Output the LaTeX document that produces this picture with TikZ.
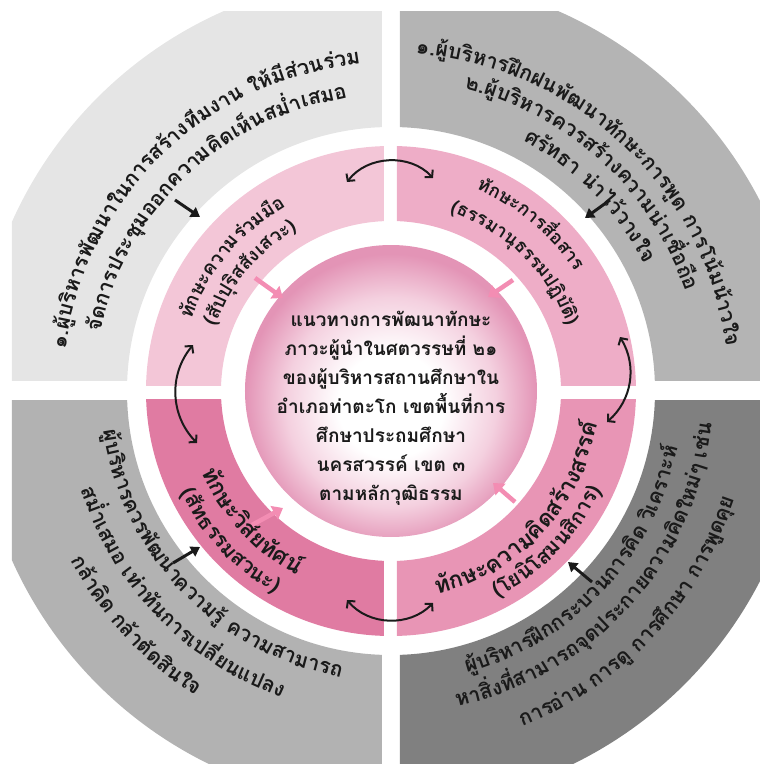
\documentclass[tikz,border=0pt]{standalone}
\usepackage{fontspec}
\newfontfamily\thaifont[Script=Thai]{Loma}
\usetikzlibrary{arrows.meta}

\definecolor{gTL}{HTML}{E5E5E5}
\definecolor{gTR}{HTML}{B4B4B4}
\definecolor{gBL}{HTML}{B2B2B2}
\definecolor{gBR}{HTML}{808080}
\definecolor{pTL}{HTML}{F3C6D7}
\definecolor{pTR}{HTML}{EEADC7}
\definecolor{pBL}{HTML}{E07BA2}
\definecolor{pBR}{HTML}{E895B5}
\definecolor{pEdge}{HTML}{E394B6}
\definecolor{pMid}{HTML}{F4D0DF}
\definecolor{pArrow}{HTML}{F38DB3}
\definecolor{ink}{HTML}{1A1A1A}

\pgfdeclareradialshading{coreshade}{\pgfpoint{0bp}{-3bp}}{color(0bp)=(white); color(9bp)=(white); color(18bp)=(pMid); color(25bp)=(pEdge); color(50bp)=(pEdge)}

\newdimen\arcwd \newdimen\arcsum \newdimen\arcrun
\newbox\arcbox
\newcounter{arcc}
\newcommand\otxt{\thaifont\bfseries\fontsize{21}{24}\selectfont}
\newcommand\ptxt{\thaifont\bfseries\fontsize{19}{22}\selectfont}
\newcommand\ptxtr{\thaifont\bfseries\fontsize{18.5}{22}\selectfont}
\newcommand\qtxt{\thaifont\bfseries\fontsize{23}{26}\selectfont}
\newcommand\rtxt{\thaifont\bfseries\fontsize{21}{24}\selectfont}
\makeatletter
\newcommand\arcstrip[1]{\strip@pt#1}
\makeatother

% #1 font, #2 baseline radius, #3 middle angle, #4 direction (1 clockwise, -1 anticlockwise), #5 chunks
\newcommand\arcline[5]{%
  \global\arcsum=0pt\relax
  \foreach \chunk in {#5}{%
    \pgfinterruptpicture\global\setbox\arcbox=\hbox{#1\chunk}\endpgfinterruptpicture
    \global\advance\arcsum by \wd\arcbox\relax}%
  \global\arcrun=-0.5\arcsum\relax
  \foreach \chunk in {#5}{%
    \pgfinterruptpicture\global\setbox\arcbox=\hbox{#1\chunk}\endpgfinterruptpicture
    \global\arcwd=\wd\arcbox\relax
    \edef\arcmid{\arcstrip{\dimexpr\arcrun+\arcwd/2\relax}}%
    \pgfmathsetmacro\arcang{#3-(#4)*\arcmid/#2*57.29578}%
    \pgfmathsetmacro\arcrot{\arcang-(#4)*90}%
    \stepcounter{arcc}%
    \node[arctext, rotate=\arcrot] (ac\arabic{arcc}) at (\arcang:#2pt) {#1\chunk};%
    \global\advance\arcrun by \arcwd\relax
  }%
}

\tikzset{
  arctext/.style={inner sep=0pt, anchor=base, text=ink},
  swing/.style={ink, line width=2pt, {Straight Barb[length=5pt,width=11pt]}-{Straight Barb[length=5pt,width=11pt]}},
  feed/.style={ink, line width=3pt, -{Triangle[length=9pt,width=11pt]}},
  pinkarrow/.style={pArrow, line width=4.5pt, -{Triangle[length=10pt,width=15pt]}},
}

\begin{document}
\begin{tikzpicture}[x=1pt,y=1pt]
\useasboundingbox (-391,-373) rectangle (369,391);

% outer grey quadrants
\begin{scope}
  \clip (-379,-373) rectangle (369,379);
  \begin{scope}\clip (-500,11) rectangle (-9,500);
    \fill[gTL, even odd rule] (0,0) circle (415pt) (0,0) circle (264pt);\end{scope}
  \begin{scope}\clip (9,11) rectangle (500,500);
    \fill[gTR, even odd rule] (0,0) circle (415pt) (0,0) circle (264pt);\end{scope}
  \begin{scope}\clip (-500,-9) rectangle (-9,-500);
    \fill[gBL, even odd rule] (0,0) circle (415pt) (0,0) circle (264pt);\end{scope}
  \begin{scope}\clip (9,-9) rectangle (500,-500);
    \fill[gBR, even odd rule] (0,0) circle (415pt) (0,0) circle (264pt);\end{scope}
\end{scope}

% pink ring quadrants
\begin{scope}\clip (-300,6) rectangle (-7,300);
  \fill[pTL, even odd rule] (0,0) circle (245pt) (0,0) circle (170pt);\end{scope}
\begin{scope}\clip (6,6) rectangle (300,300);
  \fill[pTR, even odd rule] (0,0) circle (245pt) (0,0) circle (170pt);\end{scope}
\begin{scope}\clip (-300,-8) rectangle (-7,-300);
  \fill[pBL, even odd rule] (0,0) circle (245pt) (0,0) circle (170pt);\end{scope}
\begin{scope}\clip (6,-8) rectangle (300,-300);
  \fill[pBR, even odd rule] (0,0) circle (245pt) (0,0) circle (170pt);\end{scope}

% inner circle
\shade[shading=coreshade] (0,0) circle (146pt);

\node[align=center, text=ink, font=\thaifont\bfseries\fontsize{19}{29}\selectfont] (core) at (0,-17)
  {แนวทางการพัฒนาทักษะ\\ภาวะผู้นำในศตวรรษที่ ๒๑\\ของผู้บริหารสถานศึกษาใน\\อำเภอท่าตะโก เขตพื้นที่การ\\ศึกษาประถมศึกษา\\นครสวรรค์ เขต ๓\\ตามหลักวุฒิธรรม};

% outer texts
\arcline{\otxt}{328}{134}{1}{๑.,ผู้,บริ,หาร,พัฒ,นา,ใน,การ,สร้าง,ทีม,งาน,{\ },ให้,มี,ส่วน,ร่วม}
\arcline{\otxt}{296}{133.5}{1}{จัด,การ,ประ,ชุม,ออก,ความ,คิด,เห็น,สม่ำ,เสมอ}
\arcline{\otxt}{338}{46.7}{1}{๑.,ผู้,บริ,หาร,ฝึก,ฝน,พัฒ,นา,ทัก,ษะ,การ,พูด,{\ },การ,โน้ม,น้าว,ใจ}
\arcline{\otxt}{311}{47.5}{1}{๒.,ผู้,บริ,หาร,ควร,สร้าง,ความ,น่า,เชื่อ,ถือ}
\arcline{\otxt}{283}{44.4}{1}{ศรัท,ธา,{\ },น่า,ไว้,วาง,ใจ}
\arcline{\otxt}{290}{224}{-1}{ผู้,บริ,หาร,ควร,พัฒ,นา,ความ,รู้,{\ },ความ,สา,มารถ}
\arcline{\otxt}{325}{224}{-1}{สม่ำ,เสมอ,{\ },เท่า,ทัน,การ,เปลี่ยน,แปลง}
\arcline{\otxt}{362}{222.6}{-1}{กล้า,คิด,{\ },กล้า,ตัด,สิน,ใจ}
\arcline{\otxt}{292}{-43}{-1}{ผู้,บริ,หาร,ฝึก,กระ,บวน,การ,คิด,{\ },วิ,เค,ราะห์}
\arcline{\otxt}{322}{-42}{-1}{หา,สิ่ง,ที่,สา,มารถ,จุด,ประ,กาย,ความ,คิด,ใหม่ๆ,{\ },เช่น}
\arcline{\otxt}{360}{-43}{-1}{การ,อ่าน,{\ },การ,ดู,{\ },การ,ศึก,ษา,{\ },การ,พูด,คุย}

% pink ring texts
\arcline{\ptxt}{212}{140}{1}{ทัก,ษะ,ความ,ร่วม,มือ}
\arcline{\ptxt}{187}{140}{1}{{(สัป},ปุ,ริส,สัง,เส,วะ)}
\arcline{\ptxtr}{219}{50}{1}{ทัก,ษะ,การ,สื่อ,สาร}
\arcline{\ptxtr}{188}{46}{1}{{(ธรร},มา,นุ,ธรรม,ปฏิ,บัติ)}
\arcline{\qtxt}{206}{223}{-1}{ทัก,ษะ,วิ,สัย,ทัศน์}
\arcline{\rtxt}{233}{223}{-1}{{(สัท},ธรรม,สว,นะ)}
\arcline{\qtxt}{208}{-43}{-1}{ทัก,ษะ,ความ,คิด,สร้าง,สรรค์}
\arcline{\rtxt}{232}{-44}{-1}{{(โย},นิ,โส,มน,สิ,การ)}

% curved double arrows between skills
\coordinate (sTa) at (-44,209); \coordinate (sTb) at (42,213);
\coordinate (sLa) at (-198,46); \coordinate (sLb) at (-194,-52);
\coordinate (sRa) at (229,54);  \coordinate (sRb) at (216,-31);
\coordinate (sBa) at (-44,-209); \coordinate (sBb) at (42,-212);
\draw[swing] (sTa) to[bend left=50] (sTb);
\draw[swing] (sLa) to[bend right=42] (sLb);
\draw[swing] (sRa) to[bend left=40] (sRb);
\draw[swing] (sBa) to[bend right=48] (sBb);

% black arrows from practices to skills
\coordinate (fTLa) at (-216,191); \coordinate (fTLb) at (-191,174);
\coordinate (fTRa) at (219,191);  \coordinate (fTRb) at (194,173);
\coordinate (fBLa) at (-218,-172); \coordinate (fBLb) at (-191,-156);
\coordinate (fBRa) at (201,-191); \coordinate (fBRb) at (177,-171);
\draw[feed] (fTLa) -- (fTLb);
\draw[feed] (fTRa) -- (fTRb);
\draw[feed] (fBLa) -- (fBLb);
\draw[feed] (fBRa) -- (fBRb);

% pink arrows into the core
\coordinate (kTLa) at (-136,113); \coordinate (kTLb) at (-108,93);
\coordinate (kTRa) at (122,111);  \coordinate (kTRb) at (97,94);
\coordinate (kBLa) at (-139,-134); \coordinate (kBLb) at (-108,-117);
\coordinate (kBRa) at (124,-111); \coordinate (kBRb) at (102,-92);
\draw[pinkarrow] (kTLa) -- (kTLb);
\draw[pinkarrow] (kTRa) -- (kTRb);
\draw[pinkarrow] (kBLa) -- (kBLb);
\draw[pinkarrow] (kBRa) -- (kBRb);
\end{tikzpicture}
\end{document}
